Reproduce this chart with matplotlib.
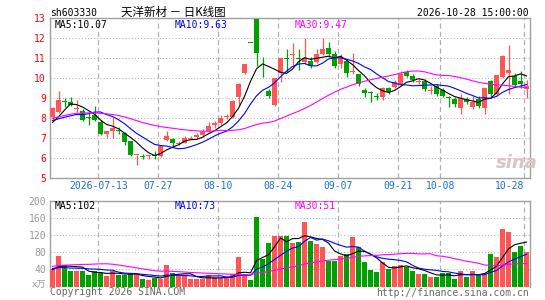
"""天洋新材 daily K-line, sina style: candles + MA5/10/30, volume + MAs."""

import numpy as np
import pandas as pd
import matplotlib
matplotlib.use("Agg")
import matplotlib.pyplot as plt
import matplotlib.transforms as mtransforms

plt.rcParams["lines.scale_dashes"] = False

# ── data ─────────────────────────────────────────────────────────────────────
opens = [8.05, 8.28, 8.82, 8.78, 8.43, 8.32, 8.02, 8.15, 7.78, 7.18,
         7.35, 7.36, 7.21, 6.82, 6.13, 6.07, 6.10, 6.10, 6.08, 6.88,
         6.95, 6.70, 6.75, 6.95, 7.05, 7.15, 7.32, 7.62, 7.75, 8.05,
         8.02, 9.05, 10.25, 11.75, 12.93, 10.08, 9.35, 8.62, 10.25, 11.00,
         11.13, 11.00, 10.77, 10.83, 10.77, 11.17, 11.50, 11.17, 10.67, 10.83,
         10.28, 10.20, 9.40, 9.27, 9.03, 9.03, 9.50, 9.53, 9.67, 10.27,
         10.07, 9.80, 9.83, 9.35, 9.60, 9.37, 9.00, 8.93, 8.47, 8.93,
         8.53, 8.93, 8.47, 9.83, 9.17, 10.03, 10.23, 10.07, 9.83, 9.45]
highs = [8.55, 9.32, 9.00, 9.03, 8.88, 8.45, 8.25, 8.58, 7.88, 7.35,
         7.98, 7.53, 7.30, 6.83, 6.15, 6.20, 6.15, 6.32, 6.62, 7.32,
         7.00, 6.85, 7.10, 7.08, 7.25, 7.42, 7.80, 7.85, 8.12, 8.18,
         8.88, 9.72, 10.70, 11.75, 12.95, 11.05, 9.45, 10.00, 11.00, 11.45,
         11.72, 11.45, 12.00, 11.03, 11.43, 12.00, 11.80, 11.33, 11.20, 10.87,
         11.23, 10.20, 9.50, 9.33, 9.23, 9.52, 9.52, 9.87, 10.33, 10.37,
         10.17, 9.93, 9.93, 9.60, 9.70, 9.50, 9.10, 9.03, 9.17, 9.03,
         9.07, 9.10, 9.50, 9.87, 10.15, 11.13, 11.63, 10.23, 10.33, 9.87]
lows = [7.90, 8.25, 8.55, 8.58, 8.28, 7.85, 7.63, 7.85, 7.12, 7.00,
        6.98, 7.18, 6.65, 6.08, 5.65, 5.92, 5.93, 5.92, 6.02, 6.82,
        6.55, 6.62, 6.72, 6.88, 6.92, 7.05, 7.28, 7.50, 7.62, 7.95,
        8.00, 8.62, 10.18, 11.75, 10.60, 10.05, 8.98, 8.58, 9.78, 10.28,
        10.65, 10.40, 10.70, 10.50, 10.75, 11.15, 11.03, 10.50, 10.47, 10.03,
        10.17, 9.57, 9.03, 8.80, 8.87, 8.90, 9.17, 9.47, 9.65, 10.03,
        9.80, 9.70, 9.33, 9.20, 9.10, 9.03, 8.53, 8.53, 8.17, 8.67,
        8.43, 8.47, 8.20, 9.03, 9.10, 10.00, 9.20, 9.60, 9.50, 9.00]
closes = [8.50, 8.90, 8.78, 8.63, 8.45, 7.90, 8.00, 7.88, 7.18, 7.33,
          7.48, 7.33, 6.78, 6.12, 6.15, 6.05, 6.12, 6.08, 6.58, 7.08,
          6.72, 6.73, 6.98, 6.97, 7.13, 7.28, 7.60, 7.72, 7.98, 8.10,
          8.85, 9.70, 10.68, 11.75, 11.25, 10.06, 9.08, 9.98, 10.98, 10.96,
          11.15, 10.93, 11.00, 10.57, 11.20, 11.43, 11.17, 10.57, 11.00, 10.23,
          10.30, 9.70, 9.25, 9.25, 9.02, 9.50, 9.27, 9.77, 10.20, 10.10,
          9.87, 9.82, 9.43, 9.37, 9.17, 9.10, 8.97, 8.67, 8.97, 8.77,
          8.80, 8.60, 9.47, 9.17, 10.13, 11.10, 10.40, 9.63, 9.70, 9.60]
volumes = [40, 72, 49, 35, 35, 35, 26, 35, 32, 25,
           37, 26, 26, 29, 29, 18, 15, 20, 17, 49,
           32, 25, 25, 17, 17, 17, 26, 21, 20, 20,
           29, 69, 28, 14, 162, 65, 102, 118, 118, 118,
           102, 103, 151, 105, 99, 91, 60, 60, 70, 76,
           116, 91, 56, 38, 34, 56, 40, 48, 51, 45,
           35, 28, 28, 23, 22, 31, 31, 18, 35, 23,
           35, 26, 32, 76, 68, 135, 126, 81, 94, 81]

# sessions before the window, only used to warm up the moving averages
prior_closes = [6.6, 6.7, 6.7, 7.2, 7.5, 7.7, 7.9, 7.9, 7.94,
                8.6, 8.8, 8.9, 8.8, 9.0, 9.0, 8.4, 8.0, 8.5, 8.3, 7.9,
                8.0, 8.0, 7.9, 7.8, 8.0, 7.5, 7.1, 7.1, 8.6]
prior_volumes = [20, 18, 18, 18, 18, 18, 18, 18, 18,
                 70, 80, 90, 95, 95, 90, 85, 80,
                 50, 45, 48, 50, 47, 48,
                 36, 40, 38, 40, 39, 40]

tick_idx = [8, 18, 28, 38, 48, 58, 65, 79]
tick_labels = ["2026-07-13", "07-27", "08-10", "08-24", "09-07", "09-21", "10-08", "10-28"]
price_ticks = [5, 6, 7, 8, 9, 10, 11, 12, 13]
vol_ticks = [40, 80, 120, 160, 200]

# ── palette ──────────────────────────────────────────────────────────────────
RED = "#ff5555"
GREEN = "#00a000"
FRAME = "#a0a0a0"
GRID = "#b0b0b0"
AXISBLUE = "#1a72c8"
MONO = "DejaVu Sans Mono"
FS = 7

W, H = 545, 300
fig = plt.figure(figsize=(W / 100, H / 100), dpi=100, facecolor="white")


def px_axes(x0, y0, x1, y1):
    return fig.add_axes([x0 / W, 1 - y1 / H, (x1 - x0) / W, (y1 - y0) / H])


def fy(y):
    return 1 - y / H


n = len(closes)
x = np.arange(n)
o = np.array(opens); c = np.array(closes)
up = c > o
colors = np.where(up, RED, GREEN)

cs = pd.Series(prior_closes + closes)
vs = pd.Series(prior_volumes + volumes, dtype=float)
ma = {k: cs.rolling(k).mean().to_numpy()[-n:] for k in (5, 10, 30)}
vma = {k: vs.rolling(k).mean().to_numpy()[-n:] for k in (5, 10, 30)}
ma_cols = {5: "black", 10: "#0000ff", 30: "#ff00ff"}

XL = (-0.5, 79.58)
vline_x = [i - 0.35 for i in tick_idx]

# ── price panel ──────────────────────────────────────────────────────────────
ax = px_axes(49.5, 17.8, 530, 177.5)
ax.set_xlim(*XL)
ax.set_ylim(5, 13)
for y in price_ticks[1:-1]:
    ax.axhline(y, color=GRID, lw=0.75, ls=(0, (0.75, 1.5)), zorder=1)
for xv in vline_x:
    ax.axvline(xv, color=GRID, lw=0.9, ls=(0, (3.6, 2.4)), zorder=1)

ax.vlines(x, lows, highs, colors=colors, lw=0.9, zorder=3)
body = np.maximum(np.abs(c - o), 0.04)
ax.bar(x, body, bottom=np.minimum(o, c), width=0.8, color=colors, lw=0, zorder=4)

for k in (5, 10, 30):
    ax.plot(x, ma[k], color=ma_cols[k], lw=0.8, zorder=5)

ax.set_yticks(price_ticks)
ax.set_yticklabels([str(t) for t in price_ticks], color="red", fontsize=FS, fontfamily=MONO)
ax.tick_params(axis="y", length=0, pad=2.5)
ax.set_xticks([])
for s in ax.spines.values():
    s.set_color(FRAME); s.set_linewidth(1.0)

# watermark
fig.text(496 / W, fy(163), "sina", color="#dcc4c4", fontsize=13, fontweight="bold",
         fontstyle="italic", ha="left", va="center", zorder=2)

trans = mtransforms.blended_transform_factory(ax.transData, fig.transFigure)
for xv, lbl in zip(vline_x, tick_labels):
    ha = "right" if lbl == tick_labels[-1] else "center"
    ax.text(xv, fy(186), lbl, transform=trans, ha=ha, va="center",
            color=AXISBLUE, fontsize=FS, fontfamily=MONO)

# ── volume panel ─────────────────────────────────────────────────────────────
axv = px_axes(49.5, 200.7, 530, 286.5)
axv.set_xlim(*XL)
axv.set_ylim(0, 200)
for y in vol_ticks[:-1]:
    axv.axhline(y, color=GRID, lw=0.75, ls=(0, (0.75, 1.5)), zorder=1)
for xv in vline_x:
    axv.axvline(xv, color=GRID, lw=0.9, ls=(0, (3.6, 2.4)), zorder=1)
axv.bar(x, volumes, width=0.8, color=colors, lw=0, zorder=3)
for k in (5, 10, 30):
    axv.plot(x, vma[k], color=ma_cols[k], lw=0.8, zorder=5)

axv.set_yticks(vol_ticks)
axv.set_yticklabels([str(t) for t in vol_ticks], color="#999999", fontsize=FS, fontfamily=MONO)
axv.tick_params(axis="y", length=0, pad=2.5)
axv.set_xticks([])
for s in axv.spines.values():
    s.set_color(FRAME); s.set_linewidth(1.0)
axv.spines["bottom"].set_visible(False)

# ── texts ────────────────────────────────────────────────────────────────────
fig.text(50 / W, fy(12.5), "sh603330", fontsize=FS, fontfamily=MONO, va="center")
fig.text(121 / W, fy(12.5), "天洋新材 － 日K线图", fontsize=8.3,
         family=["Noto Sans CJK SC", "DejaVu Sans"], va="center")
fig.text(529 / W, fy(12.5), "2026-10-28 15:00:00", fontsize=FS, fontfamily=MONO,
         va="center", ha="right")

for xp, lbl, col in [(55, "MA5:10.07", "black"), (174.5, "MA10:9.63", "#0000ff"),
                     (294.5, "MA30:9.47", "#ff00ff")]:
    fig.text(xp / W, fy(25.2), lbl, color=col, fontsize=FS, fontfamily=MONO, va="center")
for xp, lbl, col in [(55, "MA5:102", "black"), (175, "MA10:73", "#0000ff"),
                     (295, "MA30:51", "#ff00ff")]:
    fig.text(xp / W, fy(205.8), lbl, color=col, fontsize=FS, fontfamily=MONO, va="center")

fig.text(46 / W, fy(285.5), "x万", color="#999999", fontsize=6.5,
         family=[MONO, "Noto Sans CJK SC"], va="center", ha="right")
fig.text(50 / W, fy(292), "Copyright 2026 SINA.COM", color="#666666", fontsize=FS,
         fontfamily=MONO, va="center")
fig.text(529 / W, fy(292.5), "http://finance.sina.com.cn", color="#666666", fontsize=FS,
         fontfamily=MONO, va="center", ha="right")

fig.savefig("out.png", dpi=100, facecolor="white")
